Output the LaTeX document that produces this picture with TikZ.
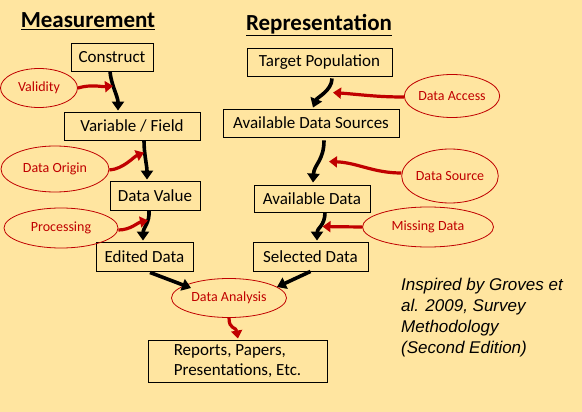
\documentclass[tikz,border=0pt]{standalone}
\usepackage{fontspec}
\setmainfont{Carlito}
\newfontfamily\arialfont{Liberation Sans}
\usetikzlibrary{shapes.geometric,arrows.meta}
\definecolor{bgcol}{HTML}{FFE5A0}
\definecolor{myred}{HTML}{C00000}
\begin{document}
\begin{tikzpicture}[x=1pt,y=-1pt,
  box/.style={draw=black,line width=0.9pt,inner sep=0pt,minimum height=28pt,font=\fontsize{17}{19}\selectfont},
  oval/.style={ellipse,draw=myred,line width=0.8pt,inner sep=0pt,text=myred,font=\fontsize{14}{16}\selectfont},
  title/.style={font=\fontsize{23}{26}\selectfont\bfseries,inner sep=0pt},
  blk/.style={draw=black,line width=3.6pt,-{Triangle[length=9pt,width=12pt]}},
  rdarr/.style={draw=myred,line width=3.2pt,-{Triangle[length=8pt,width=11pt]}}
]
\fill[bgcol] (0,0) rectangle (582,412);
\useasboundingbox (0,0) rectangle (582,412);

% titles
\node[title] (meas) at (88,21) {\underline{Measurement}};
\node[title] (repr) at (319,25) {\underline{Representation}};

% measurement column
\node[box,minimum width=82pt] (construct) at (112,57) {Construct};
\node[box,minimum width=136pt] (varfield) at (132,126) {Variable / Field};
\node[box,minimum width=90pt,minimum height=29pt] (dataval) at (155,195.5) {Data Value};
\node[box,minimum width=97pt,minimum height=29pt] (edited) at (144.5,256.5) {Edited Data};

\node[oval,minimum width=77pt,minimum height=39pt] (validity) at (39,88) {Validity};
\node[oval,minimum width=108pt,minimum height=46pt] (origin) at (55,169) {Data Origin};
\node[oval,minimum width=114pt,minimum height=40pt] (processing) at (61,228) {Processing};

% representation column
\node[box,minimum width=145pt] (target) at (319.5,62) {Target Population};
\node[box,minimum width=176pt] (sources) at (311,123) {Available Data Sources};
\node[box,minimum width=116pt,minimum height=27pt] (availdata) at (312,198.5) {Available Data};
\node[box,minimum width=115pt,minimum height=29pt] (selected) at (310.5,256.5) {Selected Data};

\node[oval,minimum width=91pt,minimum height=43pt] (access) at (452,96) {Data Access};
\node[oval,minimum width=87pt,minimum height=54pt] (dsource) at (450,176) {Data Source};
\node[oval,minimum width=131pt,minimum height=40pt] (missing) at (428,227) {Missing Data};

% analysis and output
\node[oval,minimum width=115pt,minimum height=39pt] (analysis) at (229,298) {Data Analysis};
\node[box,minimum width=179pt,minimum height=42pt,align=left,font=\fontsize{17}{20}\selectfont] (reports) at (237.5,361) {Reports, Papers,\\Presentations, Etc.};

% note
\node[anchor=north west,align=left,inner sep=0pt,font=\arialfont\itshape\fontsize{17}{21}\selectfont] (note) at (401,278)
  {Inspired by Groves et\\al. 2009, Survey\\Methodology\\(Second Edition)};

% black connectors, measurement
\draw[blk] ([shift={(-2,0)}]construct.south) .. controls +(1,13) and +(0,-14) .. ([shift={(-14,-1)}]varfield.north);
\draw[blk] ([shift={(12,0)}]varfield.south) .. controls +(0,14) and +(0,-14) .. ([shift={(-8,-1)}]dataval.north);
\draw[blk] ([shift={(-6,0)}]dataval.south) .. controls +(1,12) and +(0,-12) .. ([shift={(-1.5,-1)}]edited.north);

% red connectors, measurement
\draw[rdarr] (validity.east) .. controls +(14,-4) and +(-12,1) .. ([shift={(1,-2)}]validity.east -| construct.south);
\draw[rdarr] ([shift={(0,1)}]origin.east) .. controls +(14,-1) and +(-10,4) .. ([shift={(-11,-28)}]dataval.north);
\draw[rdarr] ([shift={(0,2)}]processing.east) .. controls +(12,0) and +(-10,2) .. ([shift={(-7,10)}]dataval.south);

% black connectors, representation
\draw[blk] ([shift={(12.5,2)}]target.south) .. controls +(0,12) and +(4,-10) .. ([shift={(2,-1)}]sources.north);
\draw[blk] ([shift={(13,3)}]sources.south) .. controls +(0,20) and +(1,-18) .. ([shift={(1,-2)}]availdata.north);
\draw[blk] ([shift={(13,0)}]availdata.south) .. controls +(0,13) and +(0,-12) .. ([shift={(6.5,-1)}]selected.north);

% red connectors, representation
\draw[rdarr] ([shift={(0,1)}]access.west) .. controls +(-28,0) and +(28,2) .. ([shift={(22,-16)}]sources.north);
\draw[rdarr] ([shift={(0,-3)}]dsource.west) .. controls +(-28,0) and +(28,1) .. ([shift={(17,-23)}]availdata.north);
\draw[rdarr] (missing.west) -- ([shift={(12,-15)}]selected.north);

% into and out of analysis
\draw[blk] ([shift={(5.5,1)}]edited.south) -- ([shift={(-38,-10)}]analysis.center);
\draw[blk] (selected.south) -- ([shift={(48,-11)}]analysis.center);
\draw[rdarr] (analysis.south) .. controls +(0,12) and +(-2,-12) .. ([shift={(0.5,-1)}]reports.north);
\end{tikzpicture}
\end{document}
